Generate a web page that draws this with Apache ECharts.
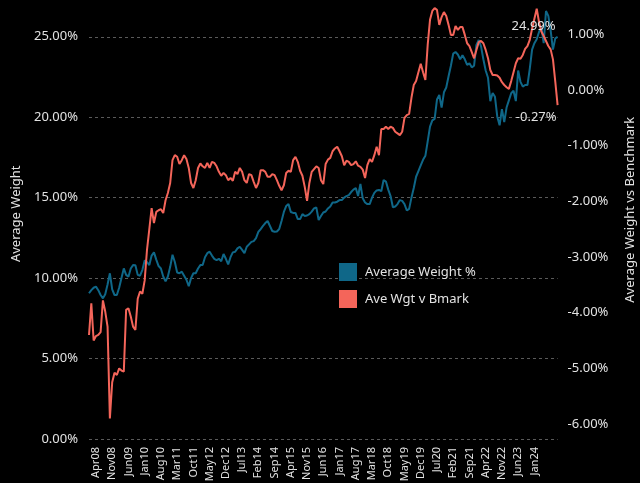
<!DOCTYPE html>
<html>
<head>
<meta charset="utf-8">
<script src="https://cdn.jsdelivr.net/npm/echarts@6/dist/echarts.min.js"></script>
<style>
html,body{margin:0;padding:0;background:#000;}
#chart{width:640px;height:483px;}
</style>
</head>
<body>
<div id="chart"></div>
<script>
// Monthly categories Jan08 .. Nov24
const monthNames = ['Jan','Feb','Mar','Apr','May','Jun','Jul','Aug','Sep','Oct','Nov','Dec'];
const firstYear = 2008;
const monthCount = 203;
const categories = [];
for (let k = 0; k < monthCount; k++) {
  const y = firstYear + Math.floor(k / 12);
  categories.push(monthNames[k % 12] + String(y % 100).padStart(2, '0'));
}

// x-axis tick labels shown in the reference
const xTickLabels = ['Apr08','Nov08','Jun09','Jan10','Aug10','Mar11','Oct11','May12','Dec12','Jul13',
  'Feb14','Sep14','Apr15','Nov15','Jun16','Jan17','Aug17','Mar18','Oct18','May19','Dec19','Jul20',
  'Feb21','Sep21','Apr22','Nov22','Jun23','Jan24'];

// Average Weight % (left axis)
const averageWeight = [
  9.06, 9.25, 9.4, 9.47, 9.25, 8.95, 8.74, 9.0, 9.6, 10.3,
  9.3, 8.95, 8.95, 9.4, 10.0, 10.6, 10.2, 10.09, 10.6, 10.81,
  10.8, 10.2, 10.15, 10.5, 11.1, 11.0, 10.81, 11.4, 11.6, 11.15,
  10.75, 10.6, 10.1, 9.8, 10.1, 10.7, 11.45, 11.0, 10.35, 10.3,
  10.4, 10.15, 9.9, 9.5, 10.0, 10.3, 10.3, 10.6, 10.81, 10.81,
  11.3, 11.55, 11.64, 11.4, 11.2, 11.12, 11.2, 11.05, 11.5, 11.2,
  10.85, 11.3, 11.6, 11.64, 11.85, 11.95, 11.75, 11.55, 11.95, 12.1,
  12.25, 12.3, 12.49, 12.87, 13.05, 13.24, 13.42, 13.55, 13.24, 12.93,
  12.88, 12.9, 13.05, 13.55, 14.11, 14.48, 14.6, 14.11, 14.05, 14.05,
  13.67, 13.67, 13.98, 13.86, 13.89, 13.98, 14.13, 14.33, 14.39, 13.61,
  13.86, 14.08, 14.14, 14.33, 14.45, 14.7, 14.7, 14.75, 14.85, 14.85,
  15.0, 15.1, 15.16, 15.35, 15.5, 15.6, 15.1, 15.85, 14.96, 14.7,
  14.6, 14.6, 15.0, 15.3, 15.45, 15.48, 15.4, 16.1, 16.0, 15.5,
  15.1, 14.4, 14.45, 14.6, 14.85, 14.8, 14.6, 14.2, 14.3, 15.0,
  15.6, 16.3, 16.65, 17.0, 17.35, 17.6, 18.5, 19.41, 19.8, 19.9,
  21.1, 21.38, 20.6, 21.55, 21.85, 22.55, 23.2, 23.95, 24.05, 23.9,
  23.6, 23.85, 23.6, 23.25, 23.35, 23.1, 23.2, 24.5, 24.8, 24.4,
  23.6, 22.9, 22.45, 21.0, 21.5, 21.27, 20.03, 19.5, 20.5, 19.7,
  20.6, 21.05, 21.49, 21.65, 21.0, 22.9, 22.2, 21.9, 22.0, 22.0,
  23.0, 24.2, 24.6, 24.85, 25.3, 25.6, 24.6, 26.6, 26.3, 25.4,
  24.2, 24.9, 24.99
];

// Ave Wgt v Bmark (right axis)
const aveWgtVsBmark = [
  -4.40, -3.83, -4.50, -4.42, -4.40, -4.35, -3.78, -3.98, -4.25, -5.90,
  -5.25, -5.08, -5.12, -5.00, -5.04, -5.06, -3.95, -3.92, -4.07, -4.25,
  -4.31, -3.75, -3.62, -3.66, -3.42, -2.87, -2.50, -2.12, -2.39, -2.19,
  -2.16, -2.14, -2.21, -1.98, -1.85, -1.67, -1.26, -1.17, -1.20, -1.33,
  -1.26, -1.17, -1.24, -1.40, -1.67, -1.76, -1.62, -1.40, -1.32, -1.37,
  -1.40, -1.31, -1.40, -1.29, -1.31, -1.37, -1.47, -1.54, -1.49, -1.53,
  -1.62, -1.58, -1.63, -1.47, -1.51, -1.40, -1.47, -1.62, -1.67, -1.51,
  -1.53, -1.65, -1.76, -1.67, -1.44, -1.44, -1.47, -1.56, -1.56, -1.51,
  -1.53, -1.62, -1.72, -1.80, -1.71, -1.49, -1.45, -1.47, -1.26, -1.20,
  -1.29, -1.45, -1.54, -1.74, -1.99, -1.67, -1.47, -1.42, -1.37, -1.40,
  -1.62, -1.69, -1.33, -1.25, -1.22, -1.10, -1.05, -1.02, -1.10, -1.19,
  -1.35, -1.27, -1.29, -1.35, -1.33, -1.28, -1.36, -1.38, -1.43, -1.58,
  -1.35, -1.24, -1.29, -1.17, -1.02, -1.17, -0.70, -0.70, -0.66, -0.70,
  -0.66, -0.68, -0.75, -0.78, -0.81, -0.75, -0.50, -0.45, -0.43, -0.14,
  0.09, 0.16, 0.32, 0.47, 0.32, 0.18, 0.81, 1.26, 1.42, 1.47,
  1.44, 1.17, 1.31, 1.40, 1.33, 1.17, 0.99, 0.99, 1.15, 1.08,
  1.13, 1.13, 0.99, 0.84, 0.79, 0.68, 0.57, 0.72, 0.86, 0.88,
  0.84, 0.72, 0.57, 0.36, 0.27, 0.27, 0.26, 0.22, 0.14, 0.09,
  0.05, 0.02, 0.16, 0.32, 0.48, 0.57, 0.56, 0.63, 0.74, 0.79,
  0.90, 1.10, 1.28, 1.46, 1.22, 1.05, 0.97, 0.88, 0.79, 0.73,
  0.55, 0.15, -0.27
];

const leftTicks = [0, 5, 10, 15, 20, 25];
const rightTicks = [-6, -5, -4, -3, -2, -1, 0, 1];
const seriesNames = ['Average Weight %', 'Ave Wgt v Bmark'];
const axisNames = ['Average Weight', 'Average Weight vs Benchmark'];

const blue = '#0f6788';
const red = '#f4655a';
const textColor = '#e2e2e2';
const fontFamily = '"Noto Sans", "DejaVu Sans", sans-serif';
const lastIdx = categories.length - 1;
const pct = v => v.toFixed(2) + '%';

const chart = echarts.init(document.getElementById('chart'), null, {renderer: 'canvas'});
chart.setOption({
  backgroundColor: '#000',
  animation: false,
  textStyle: {fontFamily: fontFamily},
  grid: [
    {left: 89, right: 82.4, top: -11.5, bottom: 44, outerBoundsMode: 'none', containLabel: false},
    {left: 89, right: 82.4, top: -60.3, bottom: 3.3, outerBoundsMode: 'none', containLabel: false}
  ],
  legend: {
    orient: 'vertical',
    left: 339, top: 263,
    padding: 0,
    itemWidth: 18, itemHeight: 18, itemGap: 9,
    icon: 'rect',
    data: seriesNames,
    textStyle: {color: textColor, fontSize: 13, padding: [0, 0, 0, 3]}
  },
  xAxis: [
    {
      type: 'category', gridIndex: 0, data: categories, boundaryGap: false,
      axisLine: {show: false}, axisTick: {show: false}, splitLine: {show: false},
      axisLabel: {
        rotate: 90, color: textColor, fontSize: 11, margin: 8,
        interval: (i, v) => xTickLabels.indexOf(v) >= 0
      }
    },
    {
      type: 'category', gridIndex: 1, data: categories, boundaryGap: false, show: false
    }
  ],
  yAxis: [
    {
      type: 'value', gridIndex: 0, min: 0, max: 28, interval: 5,
      name: axisNames[0], nameLocation: 'middle', nameGap: 66,
      nameTextStyle: {color: textColor, fontSize: 13},
      axisLine: {show: false}, axisTick: {show: false},
      axisLabel: {
        color: textColor, fontSize: 13, margin: 11, showMaxLabel: false,
        formatter: v => leftTicks.indexOf(v) >= 0 ? pct(v) : ''
      },
      splitLine: {show: true, lineStyle: {color: '#5a5a5a', width: 1, type: [3, 3]}}
    },
    {
      type: 'value', gridIndex: 1, position: 'right', min: -7, max: 2.7, interval: 1,
      name: axisNames[1], nameLocation: 'middle', nameGap: 66,
      nameTextStyle: {color: textColor, fontSize: 13},
      axisLine: {show: false}, axisTick: {show: false},
      axisLabel: {
        color: textColor, fontSize: 13, margin: 10, showMinLabel: false, showMaxLabel: false,
        formatter: v => rightTicks.indexOf(v) >= 0 ? pct(v) : ''
      },
      splitLine: {show: false}
    }
  ],
  series: [
    {
      name: seriesNames[0], type: 'line', xAxisIndex: 0, yAxisIndex: 0,
      data: averageWeight, symbol: 'none',
      lineStyle: {color: blue, width: 2}, itemStyle: {color: blue},
      markPoint: {
        symbol: 'circle', symbolSize: 0, silent: true,
        data: [{coord: [categories[lastIdx], averageWeight[lastIdx]], value: averageWeight[lastIdx]}],
        label: {
          show: true, color: textColor, fontSize: 13,
          formatter: p => pct(p.value),
          position: [-2, -11], align: 'right', verticalAlign: 'middle'
        }
      }
    },
    {
      name: seriesNames[1], type: 'line', xAxisIndex: 1, yAxisIndex: 1,
      data: aveWgtVsBmark, symbol: 'none',
      lineStyle: {color: red, width: 2}, itemStyle: {color: red},
      markPoint: {
        symbol: 'circle', symbolSize: 0, silent: true,
        data: [{coord: [categories[lastIdx], aveWgtVsBmark[lastIdx]], value: aveWgtVsBmark[lastIdx]}],
        label: {
          show: true, color: textColor, fontSize: 13,
          formatter: p => pct(p.value),
          position: [-1, 12], align: 'right', verticalAlign: 'middle'
        }
      }
    }
  ]
});
</script>
</body>
</html>
